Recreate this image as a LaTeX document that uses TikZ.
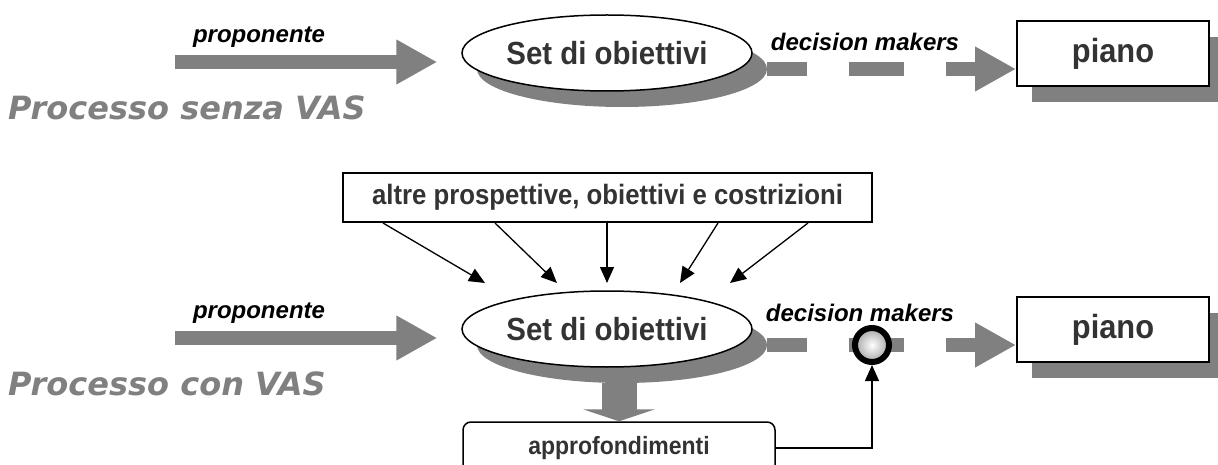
\documentclass[tikz,border=0pt]{standalone}
\usepackage{fontspec}
\setmainfont{Liberation Sans}
\newfontfamily\boxfont{Liberation Sans}[FakeStretch=0.92]
\newfontfamily\titlefont{DejaVu Sans}
\usetikzlibrary{shapes.geometric,arrows.meta,shadows}
\definecolor{shade}{HTML}{808080}
\definecolor{ink}{HTML}{333333}
\tikzset{
  goal/.style={ellipse,draw,line width=1.5pt,fill=white,minimum width=290pt,
    minimum height=76pt,inner sep=0pt,text=ink,
    font=\boxfont\fontsize{32}{33}\selectfont\bfseries},
  goalshadow/.style={ellipse,fill=shade,minimum width=290pt,minimum height=76pt,inner sep=0pt},
  planbox/.style={draw,line width=2pt,fill=white,minimum width=192pt,minimum height=65pt,
    text=ink,font=\boxfont\fontsize{33.5}{34}\selectfont\bfseries,
    drop shadow={shadow xshift=15pt,shadow yshift=-16pt,fill=shade,opacity=1}},
  arrowtext/.style={inner sep=0pt,font=\fontsize{24}{26}\selectfont\bfseries\itshape},
  title/.style={anchor=west,inner sep=0pt,text=shade,
    font=\titlefont\fontsize{32}{33}\selectfont\bfseries\itshape},
  fat/.style={draw=shade,line width=14pt,-{Triangle[length=41pt,width=42pt]}},
  feed/.style={line width=1.3pt,-{Triangle[length=16pt,width=14pt]}}
}
\begin{document}
\begin{tikzpicture}[x=1pt,y=-1pt]
  \useasboundingbox (0,0) rectangle (1218,465);
  \draw
    (622,69) node[goalshadow] (sh1){}
    (607,53) node[goal] (set1){Set di obiettivi}
    (1113,53.5) node[planbox] (piano1){piano}
    (259,37) node[arrowtext] (prop1){proponente}
    (865,42) node[arrowtext] (dm1){decision makers}
    (8,108) node[title] (senza){Processo senza VAS};
  \draw
    (622,345) node[goalshadow] (sh2){}
    (607,329) node[goal] (set2){Set di obiettivi}
    (1113,329.5) node[planbox] (piano2){piano}
    (259,313) node[arrowtext] (prop2){proponente}
    (860,313) node[arrowtext] (dm2){decision makers}
    (8,384) node[title] (con){Processo con VAS}
    (607.5,197.5) node[draw,line width=2pt,minimum width=529pt,minimum height=49pt,
      text=ink,font=\boxfont\fontsize{28}{29}\selectfont\bfseries] (altre)
      {altre prospettive, obiettivi e costrizioni}
    (619,448) node[draw,line width=1.5pt,rounded corners=8pt,minimum width=312pt,
      minimum height=52pt,text=ink,font=\boxfont\fontsize{25}{26}\selectfont\bfseries] (appro)
      {approfondimenti};
  \coordinate (src1) at (175,62);
  \coordinate (src2) at (175,338);
  \begin{scope}
    \draw[fat,shorten >=24pt] (src1) -- (set1.west |- src1);
    \draw[fat,shorten >=24pt] (src2) -- (set2.west |- src2);
    \draw[fat,dash pattern=on 55pt off 42pt,dash phase=15pt] (sh1.east) -- (piano1.west |- sh1.east);
    \draw[fat,dash pattern=on 55pt off 42pt,dash phase=15pt] (sh2.east) -- (piano2.west |- sh2.east);
    \draw[draw=shade,line width=35pt,-{Triangle[length=12pt,width=72pt]}]
      (sh2.south -| appro.north) -- (appro.north);
  \end{scope}
  \foreach \s/\e [count=\i] in {383/485,495/557,607/607,718/680,808/730}{
    \coordinate (in\i) at (\e,283);
    \draw[feed] (altre.south -| \s,0) -- (in\i);
  }
  \node[circle,draw,line width=6pt,minimum size=34pt,inner sep=0pt,
    inner color=white,outer color=gray!70] (ball) at (872,345) {};
  \draw[feed] (appro.east) -| (ball.south);
\end{tikzpicture}
\end{document}
